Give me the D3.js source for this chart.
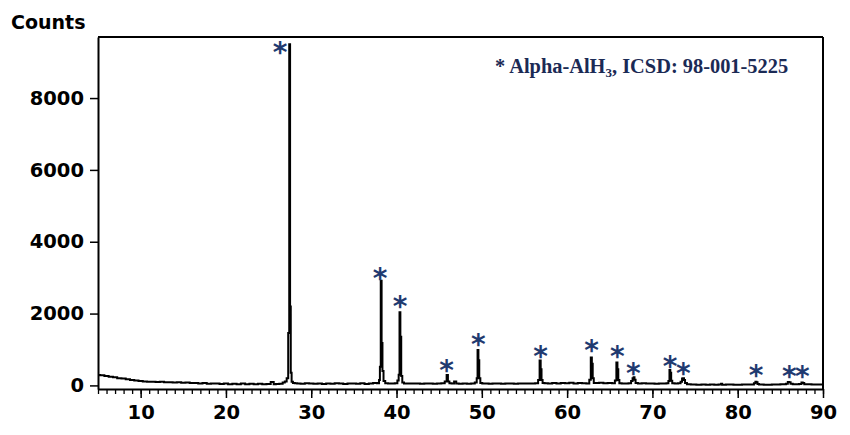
<!DOCTYPE html>
<html>
<head>
<meta charset="utf-8">
<script src="https://cdn.jsdelivr.net/npm/d3@7"></script>
<style>
  html, body { margin: 0; padding: 0; background: #fff; }
  svg { display: block; }
</style>
</head>
<body>
<svg id="chart" width="850" height="435"></svg>
<script>
// ---- data ----
const twoTheta = [
  5.0,5.5,6.0,6.5,7.0,7.5,8.0,8.5,9.0,9.5,10.0,10.5,11.0,11.5,12.0,12.5,13.0,13.5,14.0,14.5,
  15.0,15.5,16.0,16.5,17.0,17.5,18.0,18.5,19.0,19.5,20.0,20.5,21.0,21.5,22.0,22.5,23.0,23.5,24.0,24.5,
  25.0,25.5,25.7,26.0,26.5,26.8,27.0,27.24,27.36,27.48,27.56,27.64,27.76,27.95,28.2,28.5,29.0,29.5,30.0,30.5,
  31.0,31.5,32.0,32.5,33.0,33.5,34.0,34.5,35.0,35.5,36.0,36.5,37.0,37.5,37.9,38.0,38.1,38.2,38.3,38.4,
  38.55,38.8,39.2,39.6,40.0,40.2,40.3,40.4,40.5,40.6,40.75,41.0,41.5,42.0,42.5,43.0,43.5,44.0,44.5,45.0,
  45.5,45.8,45.95,46.1,46.3,46.6,46.9,47.1,47.5,48.0,48.5,49.0,49.35,49.45,49.55,49.65,49.75,49.9,50.2,50.6,
  51.0,51.5,52.0,52.5,53.0,53.5,54.0,54.5,55.0,55.5,56.0,56.5,56.7,56.85,56.95,57.05,57.2,57.5,58.0,58.5,
  59.0,59.5,60.0,60.5,61.0,61.5,62.0,62.5,62.7,62.85,62.95,63.05,63.2,63.5,64.0,64.5,65.0,65.5,65.7,65.85,
  65.95,66.05,66.2,66.6,67.0,67.4,67.6,67.75,67.85,67.95,68.1,68.5,69.0,69.5,70.0,70.5,71.0,71.5,71.8,71.95,
  72.05,72.15,72.25,72.4,72.8,73.2,73.4,73.55,73.65,73.75,73.9,74.2,74.8,75.5,76.0,76.5,77.0,77.5,78.0,78.1,
  78.25,79.0,80.0,81.0,81.8,82.0,82.15,82.25,82.4,82.6,83.5,84.5,85.5,85.8,85.95,86.1,86.3,86.6,87.0,87.4,
  87.55,87.7,87.9,88.3,89.0,90.0
];
const counts = [
  290,285,265,240,225,200,190,170,150,140,125,110,105,100,95,100,85,90,80,85,
  75,80,65,70,55,65,45,55,50,40,50,35,45,35,50,30,45,35,45,30,
  40,95,35,40,45,80,110,200,1460,9500,2200,350,100,70,60,55,45,60,50,45,
  55,40,55,45,60,50,40,55,50,45,60,40,55,65,60,150,520,2915,1180,400,
  120,60,55,50,60,140,300,2035,1355,260,80,55,50,55,50,45,50,55,45,50,
  60,110,290,110,60,55,110,50,45,50,45,55,80,200,985,700,200,70,55,50,
  45,55,50,45,55,50,45,55,50,55,50,60,150,690,450,150,70,60,55,70,
  55,70,60,75,55,70,60,55,160,780,600,200,70,65,75,60,70,60,140,640,
  450,150,60,55,50,60,120,200,225,160,70,55,60,50,55,45,50,55,60,120,
  430,350,130,60,55,60,100,190,200,150,70,30,25,20,25,20,25,20,25,45,
  20,25,20,25,25,60,105,90,40,25,20,25,30,45,95,85,45,35,30,40,
  80,70,35,30,25,25
];
// asterisk marks (2θ, counts at the mark centre)
const markTheta  = [26.34, 38.06, 40.41, 45.88, 49.59, 56.9, 62.88, 65.89, 67.76, 72.07, 73.62, 82.15, 86.05, 87.58];
const markCounts = [9386, 3107, 2313, 550, 1264, 922, 1105, 922, 457, 660, 457, 412, 368, 368];
const xMajorTicks = [10, 20, 30, 40, 50, 60, 70, 80, 90];
const xMinorTicks = d3.range(5, 91, 1);
const yTicks = [0, 2000, 4000, 6000, 8000];
const yLabel = "Counts";
const legendMain = "* Alpha-AlH";
const legendSub = "3";
const legendTail = ", ICSD: 98-001-5225";

(function draw() {
  const svg = d3.select("#chart");
  svg.append("rect").attr("width", 850).attr("height", 435).attr("fill", "#fff");

  const mLeft = 98, mRight = 823, mTop = 37, mBottom = 389;
  const x = d3.scaleLinear().domain([5, 90]).range([mLeft, mRight]);
  const y = d3.scaleLinear().domain([-100, 9700]).range([mBottom, mTop]);

  const font = "'DejaVu Sans', Verdana, sans-serif";
  const tickFont = 19.5;

  // data line
  const pts = twoTheta.map((t, i) => [t, counts[i]]);
  svg.append("path")
    .datum(pts)
    .attr("fill", "none")
    .attr("stroke", "#000")
    .attr("stroke-width", 2)
    .attr("d", d3.line().x(d => x(d[0])).y(d => y(d[1])).curve(d3.curveStep));

  // frame top & right
  svg.append("line").attr("x1", mLeft).attr("x2", mRight).attr("y1", mTop).attr("y2", mTop)
    .attr("stroke", "#000").attr("stroke-width", 2);
  svg.append("line").attr("x1", mRight).attr("x2", mRight).attr("y1", mTop).attr("y2", mBottom)
    .attr("stroke", "#000").attr("stroke-width", 2);

  // x minor ticks
  const gxMinor = svg.append("g").attr("transform", `translate(0,${mBottom})`)
    .call(d3.axisBottom(x).tickValues(xMinorTicks).tickSize(5).tickSizeOuter(0).tickFormat(""));
  gxMinor.select(".domain").remove();
  gxMinor.selectAll(".tick line").attr("stroke", "#000").attr("stroke-width", 1.3);

  // x major axis
  const gx = svg.append("g").attr("transform", `translate(0,${mBottom})`)
    .call(d3.axisBottom(x).tickValues(xMajorTicks).tickSize(9).tickSizeOuter(0).tickPadding(7).tickFormat(d3.format("d")));
  gx.select(".domain").attr("stroke", "#000").attr("stroke-width", 2);
  gx.selectAll(".tick line").attr("stroke", "#000").attr("stroke-width", 1.5);
  gx.selectAll(".tick text").attr("font-family", font).attr("font-weight", "bold")
    .attr("font-size", tickFont).attr("fill", "#000");

  // y axis
  const gy = svg.append("g").attr("transform", `translate(${mLeft},0)`)
    .call(d3.axisLeft(y).tickValues(yTicks).tickSize(8).tickSizeOuter(0).tickPadding(6).tickFormat(d3.format("d")));
  gy.select(".domain").attr("stroke", "#000").attr("stroke-width", 2);
  gy.selectAll(".tick line").attr("stroke", "#000").attr("stroke-width", 1.5);
  gy.selectAll(".tick text").attr("font-family", font).attr("font-weight", "bold")
    .attr("font-size", tickFont).attr("fill", "#000");

  // y label
  svg.append("text").attr("x", 11).attr("y", 29)
    .attr("font-family", font).attr("font-weight", "bold").attr("font-size", 19)
    .attr("fill", "#000").text(yLabel);

  // legend
  const leg = svg.append("text").attr("x", 495).attr("y", 73)
    .attr("font-family", "'Liberation Serif', 'Times New Roman', serif")
    .attr("font-weight", "bold").attr("font-size", 20.4).attr("fill", "#1b2a55");
  leg.append("tspan").text(legendMain);
  leg.append("tspan").attr("font-size", 13).attr("dy", 4).text(legendSub);
  leg.append("tspan").attr("dy", -4).text(legendTail);

  // asterisks
  const marks = svg.append("g");
  markTheta.forEach((t, i) => {
    const cy = y(markCounts[i]);
    const tx = marks.append("text")
      .attr("x", x(t)).attr("y", cy)
      .attr("text-anchor", "middle")
      .attr("font-family", font).attr("font-weight", "bold")
      .attr("font-size", 28).attr("fill", "#1f3a70")
      .text("*");
    const bb = tx.node().getBBox();
    const inkCenter = bb.y + bb.height * 0.36;
    tx.attr("y", cy + (cy - inkCenter));
  });
})();
</script>
</body>
</html>
